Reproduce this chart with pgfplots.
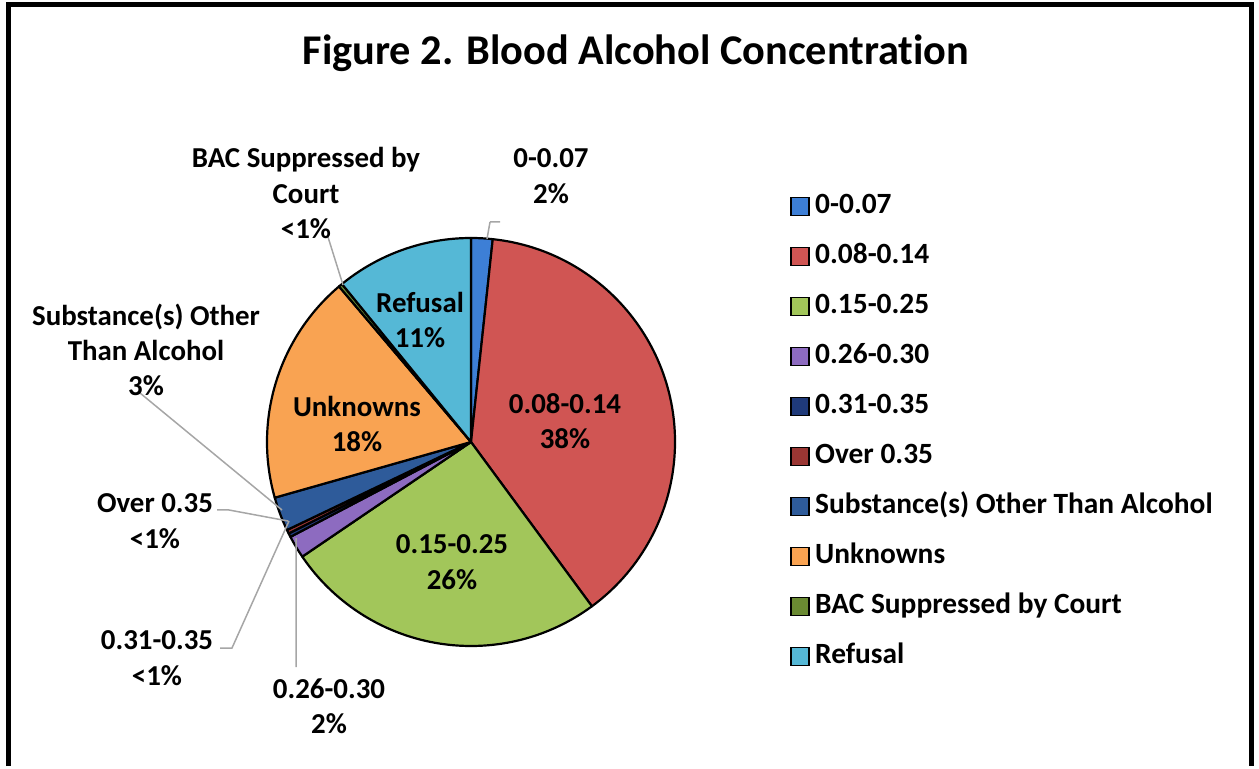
\documentclass[border=0pt]{standalone}
\usepackage{fontspec}
\setmainfont{Carlito}
\usepackage{pgfplots}
\usepackage{pgfplotstable}
\pgfplotsset{compat=1.18}

\definecolor{col0}{HTML}{3D7FD6}
\definecolor{col1}{HTML}{D05553}
\definecolor{col2}{HTML}{A2C65A}
\definecolor{col3}{HTML}{8D6BC0}
\definecolor{col4}{HTML}{1F3A7A}
\definecolor{col5}{HTML}{9A3633}
\definecolor{col6}{HTML}{2E5B9A}
\definecolor{col7}{HTML}{F9A352}
\definecolor{col8}{HTML}{6A8A32}
\definecolor{col9}{HTML}{55B8D6}
\definecolor{leader}{HTML}{A6A6A6}

% share of each category, in percent (clockwise from 12 o'clock)
\pgfplotstableread{
idx value
0 1.7
1 38.2
2 25.6
3 1.8
4 0.3
5 0.3
6 2.7
7 18.2
8 0.3
9 10.9
}\piedata

\begin{document}
\begin{tikzpicture}
\gdef\cum{0}%
\pgfplotsforeachungrouped \i in {0,...,9}{%
  \pgfplotstablegetelem{\i}{value}\of\piedata
  \pgfmathsetmacro\sa{90-3.6*\cum}%
  \pgfmathsetmacro\newcum{\cum+\pgfplotsretval}%
  \pgfmathsetmacro\ea{90-3.6*\newcum}%
  \expandafter\xdef\csname sa\i\endcsname{\sa}%
  \expandafter\xdef\csname ea\i\endcsname{\ea}%
  \xdef\cum{\newcum}%
}%
\begin{axis}[
  width=1259bp, height=766bp, scale only axis,
  xmin=0, xmax=1259, ymin=0, ymax=766,
  hide axis, clip=false,
  legend style={at={(axis cs:790,574)}, anchor=north west, draw=none, fill=none,
    font=\fontsize{29.5}{32}\selectfont\bfseries,
    row sep=21bp, inner sep=0pt,
    nodes={inner ysep=1.5bp, inner xsep=5.5bp, text height=20bp, text depth=6bp}},
  legend cell align=left,
  legend image code/.code={\draw[#1, line width=1.5bp] (0bp,-9bp) rectangle (18bp,9bp);},
]
\path (axis cs:0,0) rectangle (axis cs:1259,766);
\draw[line width=5bp] (axis cs:8,0) -- (axis cs:8,761) -- (axis cs:1251,761) -- (axis cs:1251,0);

\pgfplotsinvokeforeach{0,...,9}{%
  \filldraw[fill=col#1, draw=black, line width=2.2bp, line join=round]
    (axis cs:471,324) -- ++(\csname sa#1\endcsname:204bp)
    arc[start angle=\csname sa#1\endcsname, end angle=\csname ea#1\endcsname, radius=204bp] -- cycle;
}

\addlegendimage{fill=col0, draw=black}\addlegendentry{0-0.07}
\addlegendimage{fill=col1, draw=black}\addlegendentry{0.08-0.14}
\addlegendimage{fill=col2, draw=black}\addlegendentry{0.15-0.25}
\addlegendimage{fill=col3, draw=black}\addlegendentry{0.26-0.30}
\addlegendimage{fill=col4, draw=black}\addlegendentry{0.31-0.35}
\addlegendimage{fill=col5, draw=black}\addlegendentry{Over 0.35}
\addlegendimage{fill=col6, draw=black}\addlegendentry{Substance(s) Other Than Alcohol}
\addlegendimage{fill=col7, draw=black}\addlegendentry{Unknowns}
\addlegendimage{fill=col8, draw=black}\addlegendentry{BAC Suppressed by Court}
\addlegendimage{fill=col9, draw=black}\addlegendentry{Refusal}

% title
\node[font=\fontsize{42.5}{48}\selectfont\bfseries] at (axis cs:636,713) {Figure 2. Blood Alcohol Concentrat\kern0pt ion};

% leader lines
\draw[leader, line width=1.5bp]
  (axis cs:328,529) -- (axis cs:343,481)
  (axis cs:490,544) -- (axis cs:500,544)
  (axis cs:490,544) -- (axis cs:487,527)
  (axis cs:140,373) -- (axis cs:282,256)
  (axis cs:217,256) -- (axis cs:229,256) -- (axis cs:288,245)
  (axis cs:220,118) -- (axis cs:232,118) -- (axis cs:289,245)
  (axis cs:296,99) -- (axis cs:296,228);

\tikzset{lab/.style={align=center, font=\fontsize{29}{35.5}\selectfont\bfseries, inner sep=0pt}}
% labels inside slices
\node[lab] at (axis cs:565,345) {0.08-0.14\\38\%};
\node[lab] at (axis cs:452,204) {0.15-0.25\\26\%};
\node[lab] at (axis cs:357,342) {Unknowns\\18\%};
\node[lab] at (axis cs:420,446) {Refusal\\11\%};
% labels outside
\node[lab] at (axis cs:306,573) {BAC Suppressed by\\Court\\{<}1\%};
\node[lab] at (axis cs:551,590) {0-0.07\\2\%};
\node[lab] at (axis cs:146,416) {Substance(s) Other\\Than Alcohol\\3\%};
\node[lab] at (axis cs:155,245) {Over 0.35\\{<}1\%};
\node[lab] at (axis cs:157,108) {0.31-0.35\\{<}1\%};
\node[lab] at (axis cs:329,60) {0.26-0.30\\2\%};
\end{axis}
\end{tikzpicture}
\end{document}
